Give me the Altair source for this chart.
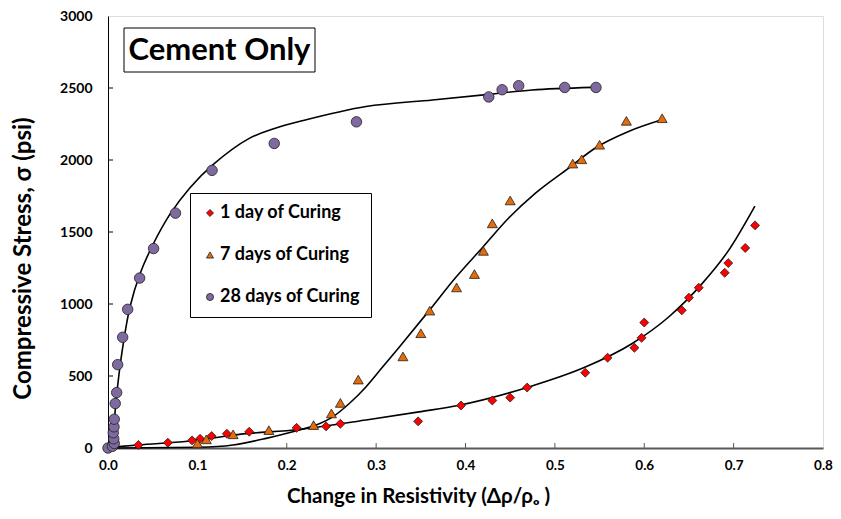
import altair as alt
import pandas as pd

# ---------------- data ----------------
series_names = ["1 day of Curing", "7 days of Curing", "28 days of Curing"]

d1_x = [0.034, 0.067, 0.094, 0.103, 0.116, 0.133, 0.158, 0.211, 0.244, 0.260, 0.347, 0.395, 0.430, 0.450,
        0.469, 0.534, 0.559, 0.589, 0.597, 0.600, 0.642, 0.650, 0.661, 0.690, 0.694, 0.713, 0.724]
d1_y = [21, 37, 53, 64, 83, 99, 113, 140, 150, 168, 185, 295, 330, 350,
        420, 523, 627, 696, 765, 871, 956, 1044, 1113, 1217, 1284, 1389, 1546]

d7_x = [0.10, 0.11, 0.14, 0.18, 0.23, 0.25, 0.26, 0.28, 0.33, 0.35, 0.36, 0.39, 0.41, 0.42,
        0.43, 0.45, 0.52, 0.53, 0.55, 0.58, 0.62]
d7_y = [32, 60, 95, 124, 159, 240, 313, 475, 636, 797, 954, 1115, 1208, 1369,
        1560, 1719, 1975, 2005, 2106, 2272, 2290]

d28_x = [0.0, 0.005, 0.007, 0.0064, 0.0059, 0.0067, 0.007, 0.0081, 0.0097, 0.0108, 0.0164, 0.022,
         0.0354, 0.051, 0.0755, 0.1164, 0.186, 0.278, 0.426, 0.441, 0.4595, 0.511, 0.546]
d28_y = [0, 12, 32, 64, 106, 147, 200, 309, 385, 579, 769, 963,
         1180, 1385, 1631, 1928, 2115, 2265, 2438, 2488, 2516, 2504, 2504]

# fitted curves
c1_x = [0.0056, 0.0338, 0.1027, 0.1398, 0.2142, 0.2887, 0.348, 0.3928, 0.4709, 0.5341, 0.5861, 0.627, 0.6642, 0.694, 0.7238]
c1_y = [7, 21, 55, 90, 129, 194, 251, 297, 424, 562, 724, 908, 1138, 1369, 1680]

c7_x = [0.010, 0.1027, 0.1398, 0.177, 0.2068, 0.2329, 0.2514, 0.270, 0.2886, 0.3072, 0.3258,
        0.3593, 0.389, 0.4188, 0.4486, 0.4783, 0.5155, 0.5453, 0.5824, 0.6196]
c7_y = [0, 5, 21, 67, 113, 159, 216, 309, 424, 562, 700,
        954, 1184, 1391, 1599, 1770, 1944, 2083, 2198, 2279]

c28_x = [0.0045, 0.0078, 0.0115, 0.0171, 0.0245, 0.0357, 0.0505, 0.0692, 0.0915, 0.1175, 0.158,
         0.1863, 0.214, 0.2887, 0.363, 0.426, 0.4745, 0.5415]
c28_y = [0, 242, 470, 724, 977, 1208, 1415, 1622, 1806, 1968, 2150,
         2219, 2267, 2371, 2417, 2456, 2486, 2504]

x_ticks = [0.0, 0.1, 0.2, 0.3, 0.4, 0.5, 0.6, 0.7, 0.8]
y_ticks = [0, 500, 1000, 1500, 2000, 2500, 3000]

colors = ["#FF0000", "#E46C0A", "#7F6A9F"]
shapes = ["diamond", "triangle-up", "circle"]
marker_sizes = {series_names[0]: 80, series_names[1]: 100, series_names[2]: 110}

# ---------------- tables ----------------
pts = pd.concat([
    pd.DataFrame({"x": d1_x, "y": d1_y, "s": series_names[0]}),
    pd.DataFrame({"x": d7_x, "y": d7_y, "s": series_names[1]}),
    pd.DataFrame({"x": d28_x, "y": d28_y, "s": series_names[2]}),
])
pts["sz"] = pts["s"].map(marker_sizes)
curves_early = pd.concat([
    pd.DataFrame({"x": c1_x, "y": c1_y, "c": "1", "i": range(len(c1_x))}),
    pd.DataFrame({"x": c7_x, "y": c7_y, "c": "7", "i": range(len(c7_x))}),
])
curve_28 = pd.DataFrame({"x": c28_x, "y": c28_y, "c": "28", "i": range(len(c28_x))})
xt = pd.DataFrame({"x": x_ticks[1:-1]})
yt = pd.DataFrame({"y": y_ticks[1:-1]})

FONT = "Lato"
W, H = 715, 432

xs = alt.Scale(domain=[0, 0.8], nice=False, zero=False)
ys = alt.Scale(domain=[0, 3000], nice=False)

x_axis = alt.Axis(values=x_ticks, format=".1f", ticks=False, grid=False, labelFlush=False,
                  labelFont=FONT, labelFontWeight="bold", labelFontSize=13.5, labelColor="black",
                  labelPadding=10, domainColor="#595959", domainWidth=2,
                  title="Change in Resistivity (Δρ/ρₒ )", titleFont=FONT, titleFontWeight="bold",
                  titleFontSize=20.5, titleColor="black", titleX=310, titleY=48,
                  titleAlign="center", titleBaseline="middle")
y_axis = alt.Axis(values=y_ticks, format="d", ticks=False, grid=False, labelFlush=False,
                  labelFont=FONT, labelFontWeight="bold", labelFontSize=14, labelColor="black",
                  labelPadding=16, domainColor="black", domainWidth=1,
                  title="Compressive Stress, σ (psi)", titleFont=FONT, titleFontWeight="bold",
                  titleFontSize=24, titleColor="black", titleX=-85, titleY=242,
                  titleAlign="center", titleBaseline="middle", titleAngle=270)

base_pts = alt.Chart(pts).mark_point(filled=True, stroke="#202020", strokeWidth=0.8, opacity=1).encode(
    x=alt.X("x:Q", scale=xs, axis=x_axis),
    y=alt.Y("y:Q", scale=ys, axis=y_axis),
    fill=alt.Fill("s:N", scale=alt.Scale(domain=series_names, range=colors), title=None,
                  legend=alt.Legend(orient="none", legendX=82, legendY=177, fillColor="white",
                                    strokeColor="black", padding=11, rowPadding=24,
                                    labelFont=FONT, labelFontWeight="bold", labelFontSize=18,
                                    labelColor="black", symbolSize=50, symbolStrokeColor="#202020",
                                    symbolStrokeWidth=0.8, labelOffset=1)),
    shape=alt.Shape("s:N", scale=alt.Scale(domain=series_names, range=shapes), title=None),
    size=alt.Size("sz:Q", scale=None),
)

lines_a = alt.Chart(curves_early).mark_line(color="black", strokeWidth=1.6, interpolate="monotone").encode(
    x=alt.X("x:Q", scale=xs),
    y=alt.Y("y:Q", scale=ys),
    detail="c:N",
    order="i:Q",
)
lines_b = alt.Chart(curve_28).mark_line(color="black", strokeWidth=1.6, interpolate="catmull-rom").encode(
    x=alt.X("x:Q", scale=xs),
    y=alt.Y("y:Q", scale=ys),
    order="i:Q",
)

xtick_marks = alt.Chart(xt).mark_rule(color="#595959", strokeWidth=1).encode(
    x=alt.X("x:Q", scale=xs), y=alt.value(H), y2=alt.value(H - 5))
ytick_marks = alt.Chart(yt).mark_rule(color="black", strokeWidth=1).encode(
    y=alt.Y("y:Q", scale=ys), x=alt.value(0), x2=alt.value(5))

one = alt.Data(values=[{"t": "Cement Only"}])
box = alt.Chart(one).mark_rect(fill="white", stroke="black", strokeWidth=1).encode(
    x=alt.value(16), x2=alt.value(207), y=alt.value(12), y2=alt.value(56))
box_text = alt.Chart(one).mark_text(font=FONT, fontWeight="bold", fontSize=31, color="black",
                                    align="center", baseline="middle").encode(
    x=alt.value(111.5), y=alt.value(35), text="t:N")

chart = alt.layer(xtick_marks, ytick_marks, lines_a, lines_b, base_pts, box, box_text).properties(
    width=W, height=H,
    autosize=alt.AutoSizeParams(type="none"),
    padding={"left": 100, "top": 8, "right": 10, "bottom": 60},
).configure_view(stroke="#7f7f7f", strokeWidth=1.5).configure(background="white")

chart.save("out.html", embed_options={"renderer": "svg", "actions": False})
